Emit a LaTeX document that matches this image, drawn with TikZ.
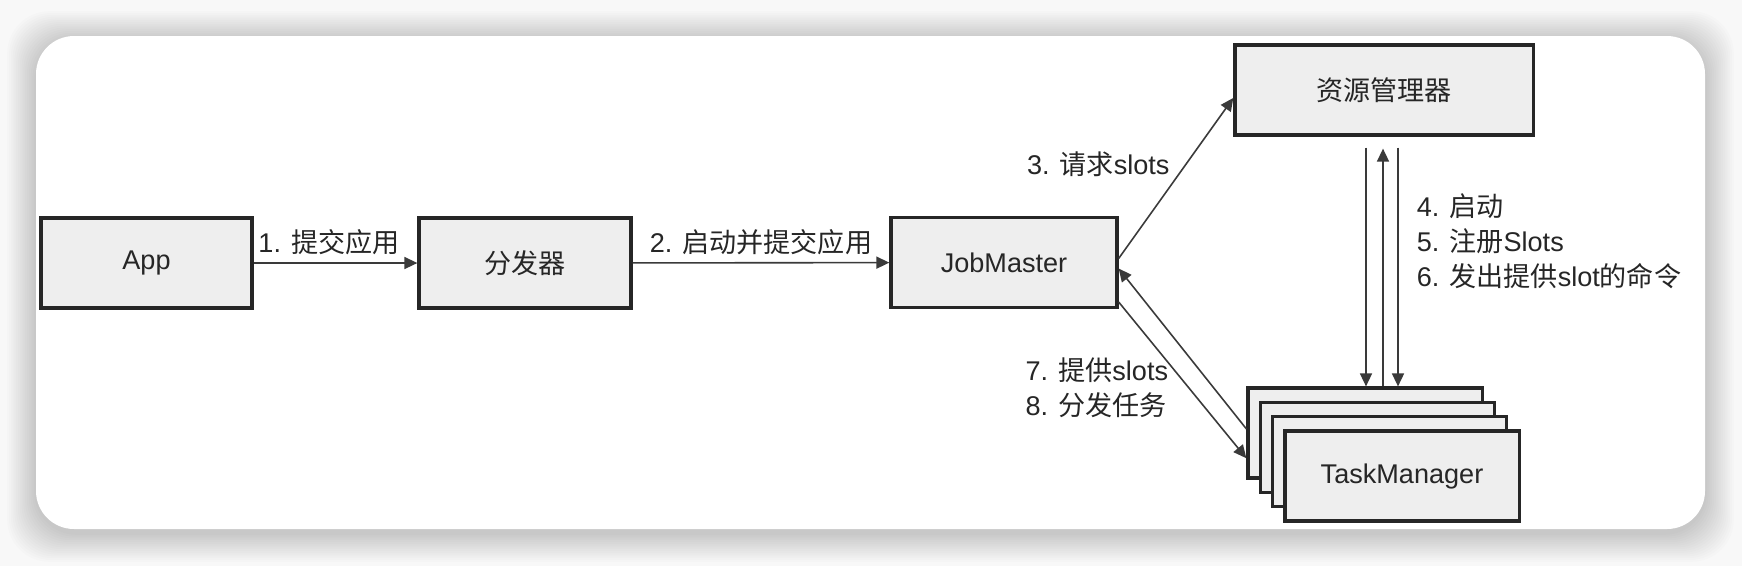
\documentclass[tikz,border=0pt]{standalone}
\usepackage{fontspec}
\setmainfont{Liberation Sans}
\newfontfamily\zhfont{Noto Sans CJK SC}
\newcommand{\zhtxt}[1]{{\zhfont #1}}
\usetikzlibrary{arrows.meta}
\definecolor{boxgray}{HTML}{EEEEEE}
\definecolor{linegray}{HTML}{3A3A3A}
\definecolor{pagegray}{HTML}{F8F8F8}
\tikzset{
    comp-box/.style = {draw=black!85, fill=boxgray, line width=0.9pt, rectangle, minimum height=0.9cm, inner sep=0pt, text=black!85},
    flow-arrow/.style = {draw=linegray, line width=0.45pt, -{Triangle[length=0.13cm, width=0.12cm]}},
    flow-label/.style = {text=black!85, inner sep=0pt},
}

\begin{document}
\begin{tikzpicture}[x=0.01cm, y=-0.01cm, font=\fontsize{7.7}{10}\selectfont]
\useasboundingbox (0,0) rectangle (1742,566);
% card with soft shadow
\fill[pagegray] (0,0) rectangle (1742,566);
\foreach \s in {1,...,16}
    \fill[black, opacity=0.01, rounded corners=0.42cm] (36-1.8*\s,40-1.8*\s) rectangle (1705+1.8*\s,533+1.8*\s);
\fill[white, rounded corners=0.38cm] (36,36) rectangle (1705,529);

% components
\node[comp-box, minimum width=2.11cm] (app) at (146.5,263) {App};
\node[comp-box, minimum width=2.12cm] (dispatcher) at (525,263) {\zhtxt{分发器}};
\node[comp-box, minimum width=2.26cm] (jobmaster) at (1004,262.5) {JobMaster};
\node[comp-box, minimum width=2.98cm] (resmgr) at (1384,90) {\zhtxt{资源管理器}};
\foreach \i in {0,1,2}
    \node[comp-box, minimum width=2.34cm] (tm\i) at (1365+12.3*\i,433+14.3*\i) {};
\node[comp-box, minimum width=2.34cm] (tm3) at (1402,476) {TaskManager};

% flows
\draw[flow-arrow] (app) -- node[flow-label, above=0.07cm, pos=0.46] {1. \zhtxt{提交应用}} (dispatcher);
\draw[flow-arrow] (dispatcher) -- node[flow-label, above=0.07cm] {2. \zhtxt{启动并提交应用}} (jobmaster);
\draw[flow-arrow] (jobmaster.2) -- node[flow-label, left=0.16cm, pos=0.59] {3. \zhtxt{请求}slots} (resmgr.183);
\draw[flow-arrow] (tm0.178) -- (jobmaster.-3);
\draw[flow-arrow] (jobmaster.-19) -- node[flow-label, left=0.2cm, pos=0.55, align=left] {7. \zhtxt{提供}slots\\8. \zhtxt{分发任务}} (tm0.192.5);

\draw[flow-arrow, shorten <=0.11cm] ([xshift=-0.18cm]resmgr.south) -- ([xshift=-0.18cm]resmgr.south |- tm0.north);
\draw[flow-arrow, shorten >=0.12cm] ([xshift=-0.01cm]resmgr.south |- tm0.north) -- ([xshift=-0.01cm]resmgr.south);
\draw[flow-arrow, shorten <=0.11cm] ([xshift=0.14cm]resmgr.south) -- node[flow-label, right=0.18cm, pos=0.42, align=left] {4. \zhtxt{启动}\\5. \zhtxt{注册}Slots\\6. \zhtxt{发出提供}slot\zhtxt{的命令}} ([xshift=0.14cm]resmgr.south |- tm0.north);
\end{tikzpicture}
\end{document}
